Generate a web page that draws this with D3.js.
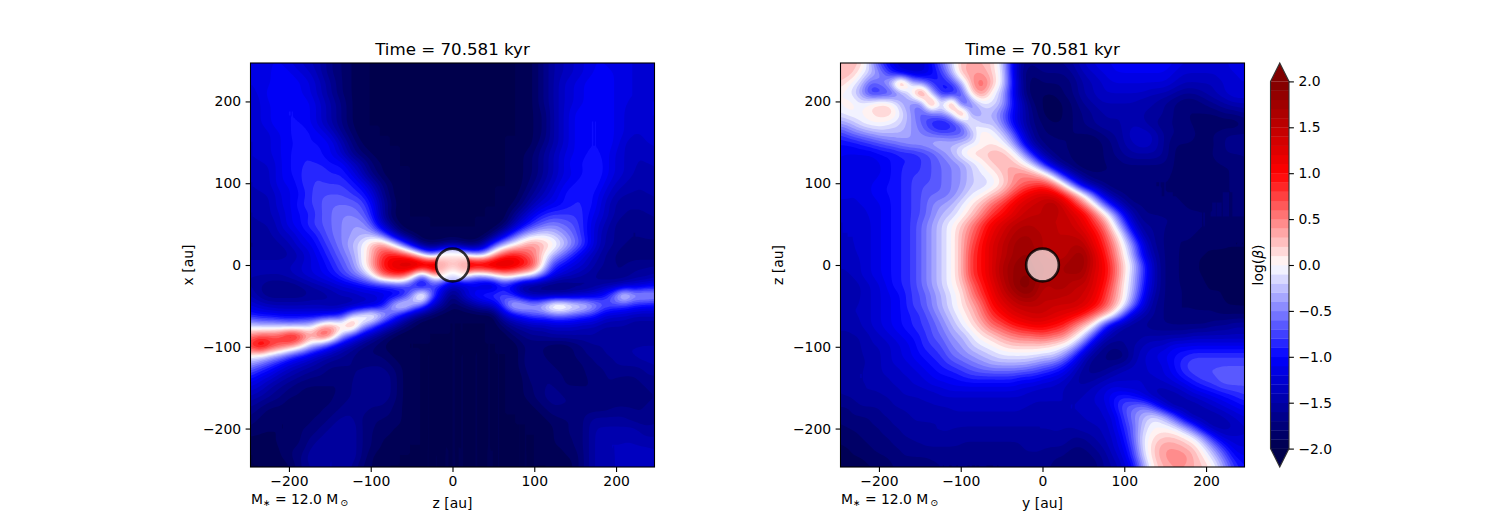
<!DOCTYPE html>
<html>
<head>
<meta charset="utf-8">
<script src="https://cdn.jsdelivr.net/npm/d3@7"></script>
<style>
body { margin: 0; background: #fff; }
text { font-family: "DejaVu Sans", sans-serif; fill: #000; }
</style>
</head>
<body>
<div id="chart"></div>
<script>
// log(beta), in tenths, 41 x 41 samples, top row first
var betaXZ = [
[-12,-12,-11,-11,-12,-13,-14,-15,-17,-18, -19,-20,-20,-20,-20,-20,-20,-20,-20,-20, -20,-20,-20,-20,-20,-20,-20,-20,-19,-17, -15,-14,-13,-12,-11,-11,-12,-12,-12,-12, -12],
[-12,-12,-11,-10,-11,-12,-13,-15,-17,-18, -19,-20,-20,-20,-20,-20,-20,-20,-20,-20, -20,-20,-20,-20,-20,-20,-20,-20,-19,-17, -15,-14,-13,-12,-11,-10,-11,-12,-12,-12, -12],
[-12,-12,-11,-10,-10,-11,-12,-14,-16,-18, -19,-20,-20,-20,-20,-20,-20,-20,-20,-20, -20,-20,-20,-20,-20,-20,-20,-20,-19,-17, -15,-13,-12,-11,-10,-10,-11,-12,-12,-12, -12],
[-12,-12,-10,-10,-10,-11,-12,-14,-16,-18, -19,-20,-20,-20,-20,-20,-20,-20,-20,-20, -20,-20,-20,-20,-20,-20,-20,-20,-19,-17, -15,-13,-12,-11,-10,-10,-11,-12,-12,-12, -12],
[-13,-12,-11,-10,-10,-10,-11,-13,-15,-17, -19,-20,-20,-20,-20,-20,-20,-20,-20,-20, -20,-20,-20,-20,-20,-20,-20,-20,-19,-17, -15,-13,-12,-11,-10,-10,-11,-12,-12,-12, -12],
[-13,-12,-11,-10,-10,-10,-11,-13,-15,-17, -19,-20,-20,-20,-20,-20,-20,-20,-20,-20, -20,-20,-20,-20,-20,-20,-20,-20,-19,-18, -15,-13,-11,-10,-10,-10,-11,-12,-13,-12, -12],
[-13,-12,-11,-10,-10,-10,-11,-13,-15,-17, -19,-20,-20,-20,-20,-20,-20,-20,-20,-20, -20,-20,-20,-20,-20,-20,-20,-20,-19,-18, -15,-13,-11,-10,-10,-10,-11,-12,-13,-12, -12],
[-13,-13,-12,-11,-10, -9,-10,-11,-13,-16, -18,-20,-20,-20,-20,-20,-20,-20,-20,-20, -20,-20,-20,-20,-20,-20,-20,-20,-19,-18, -15,-13,-11,-10,-10,-10,-11,-12,-13,-13, -12],
[-13,-13,-12,-11,-10,-10,-10,-10,-11,-14, -17,-19,-20,-20,-20,-20,-20,-20,-20,-20, -20,-20,-20,-20,-20,-20,-20,-20,-19,-17, -15,-13,-11,-10,-10,-10,-11,-13,-14,-13, -13],
[-13,-13,-12,-11,-10, -9, -9,-10,-11,-13, -16,-18,-19,-20,-20,-20,-20,-20,-20,-20, -20,-20,-20,-20,-20,-20,-20,-19,-18,-16, -14,-12,-11,-10,-10,-10,-12,-13,-14,-14, -13],
[-13,-13,-13,-11,-10, -9, -9, -9,-10,-10, -13,-15,-18,-19,-20,-20,-20,-20,-20,-20, -20,-20,-20,-20,-20,-20,-20,-19,-18,-16, -14,-12,-10,-10, -9,-10,-12,-13,-14,-14, -14],
[-14,-14,-13,-11,-10, -9, -8, -8, -9, -9, -11,-14,-17,-19,-20,-20,-20,-20,-20,-20, -20,-20,-20,-20,-20,-20,-20,-19,-18,-16, -14,-12,-11,-10, -9,-10,-12,-13,-14,-15, -14],
[-14,-14,-13,-11,-11, -9, -8, -8, -8, -8, -9,-11,-14,-17,-19,-20,-20,-20,-20,-20, -20,-20,-20,-20,-20,-20,-20,-19,-17,-15, -13,-11,-10, -9, -9,-11,-13,-14,-15,-15, -14],
[-14,-14,-14,-12,-11,-10, -8, -7, -7, -7, -8, -9,-12,-16,-19,-20,-20,-20,-20,-20, -20,-20,-20,-20,-20,-20,-20,-18,-16,-14, -12,-10, -9, -9,-10,-12,-14,-15,-15,-15, -15],
[-15,-15,-14,-12,-11, -9, -8, -7, -6, -6, -6, -7,-10,-15,-18,-20,-20,-20,-20,-20, -20,-20,-20,-20,-20,-20,-19,-17,-14,-12, -11,-10, -9, -9,-10,-13,-15,-16,-16,-16, -15],
[-15,-15,-14,-13,-11,-10, -9, -7, -6, -5, -5, -6, -9,-15,-19,-20,-20,-20,-20,-20, -20,-20,-20,-20,-20,-20,-17,-14,-11, -9, -8, -8, -8, -9,-11,-13,-15,-16,-16,-16, -16],
[-15,-15,-15,-13,-11,-10, -8, -7, -6, -5, -4, -4, -7,-13,-17,-20,-20,-20,-20,-20, -20,-20,-20,-20,-20,-19,-15,-11, -8, -6, -5, -6, -7, -9,-12,-14,-16,-17,-17,-17, -16],
[-16,-16,-15,-14,-13,-11,-10, -8, -6, -5, -4, -3, -3, -6,-12,-17,-19,-20,-20,-20, -20,-20,-20,-20,-18,-13, -8, -4, -2, -1, -2, -4, -6, -9,-12,-15,-16,-17,-17,-17, -17],
[-16,-16,-16,-15,-14,-12,-11, -9, -7, -5, -3, -1,  3,  5,  1, -5,-12,-18,-19,-18, -16,-18,-19,-16, -8, -3,  0,  3,  5,  3,  1, -2, -5, -8,-12,-15,-16,-17,-17,-17, -17],
[-16,-16,-16,-16,-15,-14,-12,-10, -8, -6, -4, -1,  3,  8, 10,  9,  6,  0, -5,  1,  3,  1, -2, -3,  3,  8, 10,  8,  5,  1, -3, -6, -9,-12,-14,-16,-17,-18,-18,-18, -18],
[-14,-14,-14,-14,-14,-13,-12,-11, -9, -7, -5, -1,  4,  9, 12, 14, 16, 16, 16, 16,  8, 15, 15, 15, 15, 15, 13, 11,  8,  0, -8,-10,-12,-13,-15,-16,-17,-17,-16,-16, -16],
[-15,-15,-15,-15,-14,-13,-12,-11,-10, -8, -6, -4,  0,  7,  9,  9,  3, -7,  3,  3, -6,  3, -3, -3,  0,  3,  3,  1, -1, -6,-11,-13,-14,-15,-16,-17,-17,-17,-16,-16, -15],
[-15,-16,-17,-17,-17,-16,-15,-14,-13,-12, -11,-10, -9, -9, -8, -7,-10,-14, -8,-10, -14,-14,-12,-14,-15,-10,-13,-17,-17,-18, -18,-18,-17,-17,-16,-15,-15,-14,-13,-12, -11],
[-14,-16,-17,-17,-17,-17,-16,-16,-15,-14, -14,-13,-13,-12,-12,-11, -4,  6, -6,-13, -18,-13,-10, -8, -7, -7, -9,-13,-15,-15, -15,-15,-14,-13,-12,-10, -5,  2, -3, -2, -3],
[-12,-13,-14,-14,-14,-14,-14,-14,-15,-15, -15,-14,-13,-11, -3,  2, -2, -6,-13,-16, -19,-18,-16,-14,-13, -7, -1, -1, -3, -1,  4,  4,  1,  0, -3, -6, -7, -8, -9,-10, -10],
[ -9,-10,-10,-11,-11,-11,-11,-11,-10, -9, -2,  1,  3, -1, -6,-11,-15,-18,-19,-20, -20,-20,-20,-20,-20,-14,-11, -9, -7, -7, -6, -6, -7, -8, -9,-12,-13,-13,-14,-14, -14],
[ -2, -3, -3, -3, -4, -3, -2,  3,  5,  2,  7, -2, -6,-11,-14,-17,-19,-20,-20,-20, -20,-20,-20,-20,-20,-18,-16,-15,-14,-14, -13,-13,-13,-14,-14,-15,-15,-15,-16,-16, -16],
[  5,  7,  7,  8, 12,  9,  4,  9,  6, -3, -8,-12,-15,-17,-19,-20,-20,-20,-20,-20, -20,-20,-20,-20,-20,-20,-18,-17,-16,-16, -15,-15,-15,-15,-15,-16,-16,-16,-16,-16, -16],
[  9, 13,  9,  7,  5,  2, -3, -6,-10,-13, -15,-17,-18,-19,-20,-20,-20,-20,-20,-20, -20,-20,-20,-20,-20,-20,-20,-18,-18,-18, -19,-19,-18,-17,-16,-16,-15,-15,-15,-15, -15],
[  0, -1, -3, -5, -8,-10,-12,-14,-15,-16, -17,-18,-18,-18,-19,-20,-20,-20,-20,-20, -20,-20,-20,-20,-20,-20,-20,-18,-17,-18, -19,-19,-18,-17,-17,-16,-16,-15,-15,-14, -14],
[ -5, -7, -9,-11,-13,-14,-15,-16,-17,-17, -17,-17,-17,-17,-18,-19,-20,-20,-20,-20, -20,-20,-20,-20,-20,-20,-20,-18,-17,-17, -18,-19,-19,-18,-17,-17,-16,-16,-16,-16, -15],
[ -9,-11,-12,-14,-15,-16,-17,-17,-18,-18, -17,-17,-16,-16,-17,-19,-20,-20,-20,-20, -20,-20,-20,-20,-20,-20,-20,-19,-17,-17, -17,-18,-19,-18,-18,-17,-17,-17,-17,-16, -16],
[-12,-13,-15,-16,-17,-18,-18,-18,-18,-18, -17,-16,-16,-16,-17,-19,-20,-20,-20,-20, -20,-20,-20,-20,-20,-20,-20,-19,-18,-17, -17,-18,-18,-18,-18,-17,-17,-18,-18,-17, -17],
[-14,-15,-16,-17,-18,-18,-19,-19,-18,-18, -17,-16,-16,-16,-17,-19,-20,-20,-20,-20, -20,-20,-20,-20,-20,-20,-20,-19,-18,-17, -16,-17,-17,-18,-18,-18,-18,-18,-18,-17, -17],
[-16,-17,-18,-18,-19,-19,-19,-18,-18,-17, -16,-16,-17,-17,-18,-19,-20,-20,-20,-20, -20,-20,-20,-20,-20,-20,-20,-20,-19,-18, -17,-17,-17,-18,-18,-18,-17,-17,-17,-17, -17],
[-17,-18,-19,-19,-19,-19,-18,-18,-17,-16, -16,-17,-18,-18,-18,-19,-20,-20,-20,-20, -20,-20,-20,-20,-20,-20,-20,-20,-20,-19, -18,-18,-18,-17,-16,-16,-16,-16,-17,-17, -16],
[-18,-19,-19,-19,-19,-18,-18,-17,-16,-15, -15,-17,-18,-18,-19,-19,-20,-20,-20,-20, -20,-20,-20,-20,-20,-20,-20,-20,-20,-20, -19,-18,-18,-17,-15,-15,-15,-15,-15,-16, -16],
[-19,-19,-19,-19,-19,-18,-17,-16,-15,-15, -15,-17,-18,-19,-19,-20,-20,-20,-20,-20, -20,-20,-20,-20,-20,-20,-20,-20,-20,-20, -19,-18,-18,-17,-15,-14,-14,-14,-14,-15, -15],
[-20,-20,-19,-19,-18,-18,-16,-15,-15,-15, -15,-17,-18,-19,-20,-20,-20,-20,-20,-20, -20,-20,-20,-20,-20,-20,-20,-20,-20,-20, -19,-19,-18,-17,-15,-14,-14,-14,-14,-14, -14],
[-20,-20,-20,-19,-18,-17,-15,-15,-15,-15, -15,-17,-19,-20,-20,-20,-20,-20,-20,-20, -20,-20,-20,-20,-20,-20,-20,-20,-20,-20, -20,-19,-19,-17,-15,-14,-14,-14,-13,-13, -14],
[-20,-20,-20,-20,-19,-17,-16,-15,-15,-15, -16,-18,-19,-20,-20,-20,-20,-20,-20,-20, -20,-20,-20,-20,-20,-20,-20,-20,-20,-20, -20,-20,-19,-17,-15,-14,-14,-14,-13,-13, -14]
];

var betaZY = [
[  2,  3,  2, -3, -8,-11,-13,-13,-13,-10, -6, -2,  3,  3,  3,  2, -2,-10,-16,-17, -16,-16,-16,-15,-13,-12,-11,-11,-10,-10, -10,-10,-10,-11,-12,-12,-12,-12,-12,-12, -11],
[  3,  3,  0, -2, -5, -9,-12,-13,-13,-11, -8, -3,  3,  4,  4,  2, -1,-10,-17,-18, -17,-17,-17,-16,-14,-13,-12,-11,-11,-11, -11,-11,-11,-12,-13,-13,-13,-13,-12,-12, -12],
[  2,  0, -2, -7, -5, -2,  9, -2, -4, -8, -10, -8, -3,  4,  7,  3, -1, -9,-16,-19, -18,-18,-18,-17,-15,-14,-13,-12,-12,-12, -12,-12,-12,-13,-14,-14,-14,-14,-13,-12, -12],
[  0, -1, -4, -9, -9, -8, -5,  0,  9, -3, -9,-11, -7,  2,  5,  0, -3,-10,-16,-19, -19,-19,-18,-17,-15,-14,-13,-13,-13,-13, -13,-14,-14,-15,-16,-16,-15,-14,-13,-12, -12],
[  0,  1, -1,  1,  2,  1, -3, -5, -6,  9, -3,  9,-10, -5, -1, -1, -3, -9,-14,-18, -19,-20,-19,-18,-16,-15,-14,-14,-14,-14, -15,-15,-16,-17,-18,-18,-17,-16,-15,-14, -14],
[ -1,  0,  0,  1,  2,  2, -1, -4, -7, -6, -4, -2,  9, -6, -3, -3, -6,-10,-14,-17, -19,-20,-19,-18,-17,-16,-15,-15,-15,-15, -15,-15,-16,-17,-18,-18,-18,-18,-17,-17, -16],
[ -4, -3, -1,  0,  0, -1, -2, -4, -6, -9, -11, -9, -6,  2, -3, -2, -5,-10,-14,-17, -18,-19,-19,-18,-17,-16,-15,-15,-15,-14, -15,-16,-17,-17,-18,-18,-19,-19,-19,-19, -18],
[ -8, -6, -5, -4, -3, -3, -3, -4, -5, -6, -7, -7, -7, -4,  2,  0, -2, -6,-12,-16, -18,-18,-18,-18,-18,-18,-17,-16,-15,-13, -13,-14,-16,-17,-17,-18,-18,-18,-17,-17, -17],
[-10,-10, -9, -8, -7, -6, -5, -4, -4, -3, -2, -3, -2, -1,  0,  1,  0, -3, -9,-15, -17,-18,-18,-18,-19,-19,-18,-17,-15,-14, -13,-14,-16,-18,-18,-18,-19,-18,-17,-16, -16],
[-11,-11,-11,-11,-10,-10, -9, -9, -8, -7, -5, -3,  0,  2,  2,  3,  3,  1, -3, -9, -15,-17,-18,-18,-19,-19,-18,-17,-16,-15, -15,-15,-16,-18,-19,-19,-18,-18,-17,-17, -17],
[-11,-12,-12,-12,-11,-10, -9, -9, -8, -7, -6, -5, -4, -2,  0,  2,  3,  3,  1, -2, -8,-14,-17,-18,-19,-19,-18,-18,-17,-17, -17,-17,-17,-18,-19,-19,-19,-18,-18,-18, -17],
[-11,-12,-12,-12,-11,-10, -9, -8, -8, -7, -6, -5, -4, -2, -1,  0,  2,  4,  5,  4,  2, -3,-10,-15,-17,-18,-18,-18,-18,-18, -18,-18,-18,-18,-19,-19,-19,-19,-18,-18, -17],
[-11,-12,-12,-11,-10,-10, -9, -8, -7, -7, -6, -5, -4, -2, -2, -1,  1,  4,  6,  7,  8,  6,  1, -6,-13,-16,-17,-18,-18,-18, -18,-18,-18,-18,-18,-19,-19,-18,-18,-18, -18],
[-12,-12,-12,-11,-10,-10, -9, -8, -7, -6, -6, -5, -3, -1,  0,  2,  4,  7, 10, 12, 13, 12,  9,  5,  0, -6,-13,-16,-17,-18, -18,-18,-18,-18,-18,-19,-18,-18,-18,-18, -18],
[-12,-12,-12,-12,-11,-10, -9, -8, -7, -5, -4, -3, -1,  1,  3,  6,  8, 11, 13, 14, 15, 17, 14, 10,  6,  1, -5,-11,-15,-17, -17,-18,-18,-18,-18,-18,-18,-18,-18,-18, -18],
[-13,-13,-12,-12,-11,-10, -9, -8, -7, -5, -3, -2,  0,  2,  5,  8, 10, 12, 14, 15, 15, 15, 15, 13, 11,  7,  2, -3,-10,-15, -17,-17,-17,-17,-18,-18,-18,-18,-18,-18, -18],
[-13,-13,-13,-12,-11,-10, -9, -8, -6, -4, -2,  0,  2,  5,  8, 11, 13, 15, 16, 16, 15, 15, 15, 14, 12,  9,  6,  0, -6,-13, -16,-16,-17,-17,-17,-18,-18,-18,-18,-18, -18],
[-13,-13,-13,-12,-11,-10, -9, -8, -6, -4, -2,  0,  3,  6,  9, 12, 14, 16, 17, 17, 16, 15, 15, 15, 14, 11,  8,  3, -2, -9, -15,-16,-17,-18,-18,-18,-18,-18,-19,-19, -19],
[-13,-13,-13,-12,-11,-10, -9, -8, -6, -4, -2,  0,  3,  7, 10, 13, 15, 17, 18, 17, 16, 15, 15, 16, 16, 12,  9,  5,  0, -5, -12,-16,-17,-18,-18,-18,-19,-19,-19,-19, -19],
[-14,-13,-13,-12,-11,-10, -9, -8, -6, -4, -2,  0,  3,  8, 10, 13, 15, 17, 18, 18, 16, 15, 15, 17, 18, 14, 10,  6,  1, -4, -11,-15,-17,-18,-18,-19,-19,-19,-19,-19, -19],
[-14,-14,-13,-12,-11,-10, -9, -8, -6, -4, -2,  0,  3,  8, 10, 13, 16, 18, 19, 18, 17, 17, 17, 18, 18, 14, 11,  7,  2, -2, -8,-14,-17,-18,-18,-19,-19,-20,-20,-20, -20],
[-14,-14,-13,-12,-11,-10, -9, -8, -6, -4, -2,  0,  3,  8, 10, 13, 16, 18, 19, 19, 17, 16, 17, 17, 17, 13, 11,  7,  2, -3, -8,-14,-17,-18,-18,-19,-19,-20,-20,-20, -20],
[-15,-15,-14,-13,-12,-10, -9, -8, -6, -4, -2,  0,  2,  6,  9, 12, 15, 18, 20, 19, 16, 16, 17, 15, 15, 13, 10,  6,  1, -3, -9,-14,-17,-18,-18,-18,-19,-19,-19,-19, -20],
[-15,-15,-14,-13,-12,-11,-10, -8, -7, -5, -3, -1,  1,  5,  8, 11, 14, 16, 18, 18, 15, 16, 15, 15, 14, 12,  9,  5,  1, -4, -10,-15,-17,-18,-18,-18,-19,-19,-19,-20, -20],
[-14,-14,-14,-13,-12,-11,-10, -8, -7, -5, -3, -1,  1,  3,  6, 10, 12, 14, 15, 15, 15, 14, 14, 14, 13, 11,  8,  4,  0, -6, -12,-16,-17,-18,-18,-18,-18,-18,-19,-19, -19],
[-14,-14,-14,-13,-12,-11,-10, -9, -8, -6, -4, -2,  0,  2,  5,  8, 10, 12, 13, 14, 14, 13, 12, 11,  9,  6,  3,  0, -7,-13, -15,-16,-17,-18,-18,-18,-18,-18,-18,-18, -18],
[-15,-15,-14,-13,-12,-11,-10, -9, -8, -7, -5, -3, -1,  1,  3,  6,  7,  9, 10, 11, 11, 10,  9,  6,  3,  0, -7,-13,-15,-16, -16,-17,-17,-17,-17,-17,-17,-16,-16,-15, -15],
[-15,-15,-15,-14,-13,-12,-11,-10, -9, -7, -6, -4, -3, -1,  1,  2,  4,  5,  6,  6,  7,  6,  5,  2, -1, -7,-13,-15,-16,-16, -15,-15,-15,-15,-15,-14,-14,-14,-14,-14, -14],
[-16,-16,-15,-14,-14,-13,-12,-11, -9, -8, -7, -5, -4, -2, -1,  0,  1,  2,  2,  2,  2,  1,  0, -2, -7,-13,-16,-17,-16,-15, -14,-13,-13,-11,-11,-11,-11,-11,-11,-11, -11],
[-16,-16,-15,-15,-14,-13,-12,-11,-10, -9, -8, -6, -5, -4, -3, -2, -1, -1, -1, -1, -2, -2, -4, -8,-13,-16,-17,-18,-18,-15, -13,-12,-11,-10, -9, -8, -8, -8, -8, -8, -8],
[-16,-15,-15,-15,-14,-13,-13,-12,-11,-10, -9, -8, -7, -6, -5, -4, -4, -4, -4, -5, -6, -7, -9,-12,-15,-17,-17,-16,-15,-14, -13,-13,-12,-10, -8, -7, -7, -7, -7, -7, -7],
[-16,-15,-15,-15,-14,-14,-13,-13,-12,-11, -10,-10, -9, -8, -8, -8, -8, -8, -9, -9, -10,-11,-12,-14,-16,-16,-15,-14,-13,-13, -13,-13,-12,-11, -9, -8, -7, -7, -6, -6, -6],
[-16,-15,-15,-15,-15,-14,-14,-13,-13,-12, -12,-11,-11,-11,-11,-11,-11,-11,-12,-12, -13,-13,-14,-15,-15,-14,-13,-12,-13,-13, -13,-14,-14,-13,-12,-10, -9, -8, -7, -7, -7],
[-16,-16,-15,-15,-15,-15,-14,-14,-14,-14, -13,-13,-13,-13,-13,-13,-13,-13,-13,-14, -14,-14,-14,-14,-14,-13,-12,-10, -9,-10, -12,-14,-15,-15,-14,-13,-12,-11,-10, -9, -8],
[-17,-17,-16,-16,-16,-15,-15,-15,-14,-14, -14,-14,-14,-14,-14,-14,-14,-14,-14,-14, -14,-14,-14,-14,-14,-13,-13,-10, -7, -6, -5, -8,-12,-15,-15,-15,-14,-13,-12,-11, -10],
[-18,-17,-17,-17,-16,-16,-15,-15,-15,-15, -15,-14,-14,-14,-14,-14,-14,-14,-14,-15, -15,-15,-14,-14,-14,-14,-13,-12, -8, -5, -3, -1, -3, -7,-12,-15,-15,-15,-14,-13, -12],
[-18,-18,-18,-17,-17,-16,-16,-15,-15,-15, -15,-15,-15,-15,-15,-15,-15,-15,-15,-15, -15,-15,-15,-15,-14,-14,-14,-12, -9, -6, -2,  0,  0, -1, -4, -8,-13,-15,-15,-14, -13],
[-19,-18,-18,-18,-17,-17,-16,-16,-16,-15, -15,-15,-16,-16,-16,-16,-16,-16,-16,-15, -15,-15,-15,-16,-16,-15,-14,-13,-10, -6, -1,  1,  2,  2,  1, -1, -5,-10,-13,-13, -13],
[-19,-19,-18,-18,-18,-17,-17,-16,-16,-16, -16,-16,-16,-16,-16,-16,-16,-16,-16,-16, -16,-16,-16,-17,-17,-16,-15,-13,-11, -7, -1,  2,  4,  4,  3,  2, -1, -5, -9,-12, -12],
[-20,-19,-19,-18,-18,-18,-17,-17,-17,-17, -17,-17,-17,-17,-17,-17,-17,-17,-16,-16, -16,-17,-17,-18,-18,-17,-16,-14,-12, -8, -2,  2,  4,  5,  5,  3,  1, -2, -6,-10, -11],
[-20,-20,-20,-19,-19,-18,-18,-18,-18,-17, -17,-17,-17,-17,-17,-17,-17,-17,-17,-17, -17,-17,-18,-18,-18,-18,-16,-15,-13,-10, -4,  1,  3,  4,  4,  3,  2,  0, -4, -8, -10]
];

var axisTicks = [-200, -100, 0, 100, 200];
var colorbarTicks = [-2, -1.5, -1, -0.5, 0, 0.5, 1, 1.5, 2];
var levels = d3.range(-20, 20);   // contour levels, tenths of log(beta)
var titleText = "Time = 70.581 kyr";
var starRadius = 20;   // au

var svgWidth = 1500;
var svgHeight = 525;
var axTop = 63;
var axSize = 404;
var extent = 247;
var cellPx = 5;    // each sample becomes a 5x5 block before d3.blur2 softens the steps
var blurPx = 2;

var svg = d3.select("#chart")
  .append("svg")
  .attr("width", svgWidth)
  .attr("height", svgHeight)
  .style("display", "block");

// matplotlib "seismic"
var seismic = d3.scaleLinear()
  .domain([-2, -1, 0, 1, 2])
  .range(["#00004c", "#0000ff", "#ffffff", "#ff0000", "#800000"]);

function bandColor(level) {
  return seismic((level + 0.5) / 10);
}

function softGrid(grid) {
  var n = grid.length * cellPx;
  var data = new Float64Array(n * n);
  for (var j = 0; j < n; j++) {
    for (var i = 0; i < n; i++) {
      data[j * n + i] = grid[Math.floor(j / cellPx)][Math.floor(i / cellPx)];
    }
  }
  d3.blur2({data: data, width: n, height: n}, blurPx);
  return {data: data, n: n};
}

function drawPanel(axLeft, grid, xName, yName, clipId) {
  var x = d3.scaleLinear().domain([-extent, extent]).range([axLeft, axLeft + axSize]);
  var y = d3.scaleLinear().domain([-extent, extent]).range([axTop + axSize, axTop]);

  var soft = softGrid(grid);
  var n = soft.n;
  // first and last samples sit on the axes edges
  var colToAu = d3.scaleLinear().domain([cellPx / 2, n - cellPx / 2]).range([-extent, extent]);
  var rowToAu = d3.scaleLinear().domain([cellPx / 2, n - cellPx / 2]).range([extent, -extent]);

  var path = d3.geoPath(d3.geoTransform({
    point: function(px, py) {
      this.stream.point(x(colToAu(px)), y(rowToAu(py)));
    }
  }));

  var contours = d3.contours().size([n, n]).thresholds(levels).smooth(true)(Array.from(soft.data));

  svg.append("clipPath").attr("id", clipId)
    .append("rect")
    .attr("x", axLeft).attr("y", axTop)
    .attr("width", axSize).attr("height", axSize);

  var field = svg.append("g").attr("clip-path", "url(#" + clipId + ")");

  field.append("rect")
    .attr("x", axLeft).attr("y", axTop)
    .attr("width", axSize).attr("height", axSize)
    .attr("fill", seismic(-2));

  field.selectAll("path").data(contours)
    .enter()
    .append("path")
    .attr("d", path)
    .attr("fill", d => bandColor(d.value));

  // star marker
  svg.append("circle")
    .attr("cx", x(0))
    .attr("cy", y(0))
    .attr("r", x(starRadius) - x(0))
    .attr("fill", "#fff")
    .attr("fill-opacity", 0.7)
    .attr("stroke", "#000")
    .attr("stroke-opacity", 0.8)
    .attr("stroke-width", 2.6);

  var bottomAxis = d3.axisBottom(x).tickValues(axisTicks).tickSizeOuter(0).tickSize(4.9).tickPadding(4.5);
  var leftAxis = d3.axisLeft(y).tickValues(axisTicks).tickSizeOuter(0).tickSize(4.9).tickPadding(4.5);

  var gx = svg.append("g").attr("transform", `translate(0,${axTop + axSize})`).call(bottomAxis);
  var gy = svg.append("g").attr("transform", `translate(${axLeft},0)`).call(leftAxis);
  [gx, gy].forEach(function(g) {
    g.select(".domain").remove();
    g.selectAll("line").attr("stroke", "#000").attr("stroke-width", 1.1);
    g.selectAll("text").attr("font-size", "13.9px").attr("font-family", "DejaVu Sans");
  });

  svg.append("rect")
    .attr("x", axLeft).attr("y", axTop)
    .attr("width", axSize).attr("height", axSize)
    .attr("fill", "none")
    .attr("stroke", "#000")
    .attr("stroke-width", 1.1);

  svg.append("text")
    .attr("x", axLeft + axSize / 2)
    .attr("y", axTop - 8)
    .attr("text-anchor", "middle")
    .attr("font-size", "16.67px")
    .text(titleText);

  svg.append("text")
    .attr("x", axLeft + axSize / 2)
    .attr("y", 508)
    .attr("text-anchor", "middle")
    .attr("font-size", "13.9px")
    .text(xName);

  svg.append("text")
    .attr("transform", `translate(${axLeft - 58},${axTop + axSize / 2}) rotate(-90)`)
    .attr("text-anchor", "middle")
    .attr("font-size", "13.9px")
    .text(yName);

  var mass = svg.append("text")
    .attr("x", axLeft + 0.5)
    .attr("y", 504)
    .attr("font-size", "13.9px");
  mass.append("tspan").text("M");
  mass.append("tspan").attr("font-size", "9px").attr("dy", 2).text("\u2217");
  mass.append("tspan").attr("dy", -2).text(" = 12.0 M");
  mass.append("tspan").attr("font-size", "9.7px").attr("dy", 2).attr("dx", 2).text("\u2299");
}

drawPanel(250.5, betaXZ, "z [au]", "x [au]", "clip-left");
drawPanel(840.5, betaZY, "y [au]", "z [au]", "clip-right");

// colorbar
var cbLeft = 1270.5;
var cbRight = 1289;
var cbMid = (cbLeft + cbRight) / 2;
var cbScale = d3.scaleLinear().domain([-2, 2]).range([448.6, 81.4]);

var cb = svg.append("g");
cb.selectAll("rect").data(levels)
  .enter()
  .append("rect")
  .attr("x", cbLeft)
  .attr("width", cbRight - cbLeft)
  .attr("y", d => cbScale((d + 1) / 10))
  .attr("height", d => cbScale(d / 10) - cbScale((d + 1) / 10) + 0.3)
  .attr("fill", d => bandColor(d));

cb.append("path")
  .attr("d", `M${cbLeft},${cbScale(2)}L${cbMid},${axTop}L${cbRight},${cbScale(2)}Z`)
  .attr("fill", seismic(2));
cb.append("path")
  .attr("d", `M${cbLeft},${cbScale(-2)}L${cbMid},${axTop + axSize}L${cbRight},${cbScale(-2)}Z`)
  .attr("fill", seismic(-2));
cb.append("path")
  .attr("d", `M${cbLeft},${cbScale(2)}L${cbMid},${axTop}L${cbRight},${cbScale(2)}L${cbRight},${cbScale(-2)}L${cbMid},${axTop + axSize}L${cbLeft},${cbScale(-2)}Z`)
  .attr("fill", "none")
  .attr("stroke", "#333")
  .attr("stroke-width", 1.1);

var cbAxis = d3.axisRight(cbScale)
  .tickValues(colorbarTicks)
  .tickFormat(d3.format(".1f"))
  .tickSizeOuter(0)
  .tickSize(4.9)
  .tickPadding(4.5);

var gc = svg.append("g").attr("transform", `translate(${cbRight},0)`).call(cbAxis);
gc.select(".domain").remove();
gc.selectAll("line").attr("stroke", "#000").attr("stroke-width", 1.1);
gc.selectAll("text").attr("font-size", "13.9px").attr("font-family", "DejaVu Sans");

var cbLabel = svg.append("text")
  .attr("transform", `translate(1263,265) rotate(-90)`)
  .attr("text-anchor", "middle")
  .attr("font-size", "13.9px");
cbLabel.append("tspan").text("log(");
cbLabel.append("tspan").attr("font-style", "italic").text("\u03b2");
cbLabel.append("tspan").text(")");
</script>
</body>
</html>
